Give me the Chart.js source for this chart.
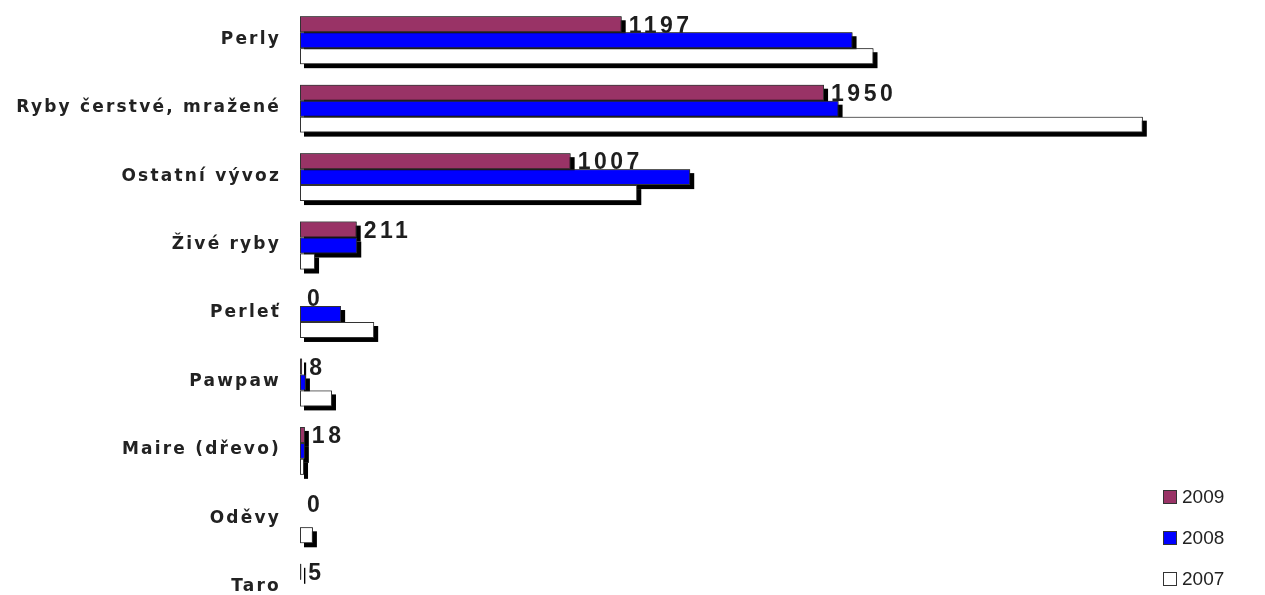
<!DOCTYPE html>
<html>
<head>
<meta charset="utf-8">
<script src="https://cdn.jsdelivr.net/npm/chart.js@4.4.0/dist/chart.umd.min.js"></script>
<style>
  html, body { margin: 0; padding: 0; background: #fff; overflow: hidden; }
  #wrap { width: 1265px; height: 625px; }
</style>
</head>
<body>
<div id="wrap"><canvas id="c" width="1265" height="625"></canvas></div>
<script>
const categories = ["Perly", "Ryby čerstvé, mražené", "Ostatní vývoz", "Živé ryby", "Perleť", "Pawpaw", "Maire (dřevo)", "Oděvy", "Taro"];
const values2009 = [1197, 1950, 1007, 211, 0, 8, 18, 0, 5];
const values2008 = [2056, 2004, 1452, 213, 153, 22, 18, 0, 0];
const values2007 = [2134, 3136, 1255, 56, 276, 119, 15, 48, 0];
const seriesLabels = ["2009", "2008", "2007"];
const seriesColors = ["#993366", "#0000FF", "#FFFFFF"];

const shadowPlugin = {
  id: 'shadowBars',
  afterDatasetsDraw(chart) {
    const ctx = chart.ctx;
    chart.data.datasets.forEach((ds, i) => {
      const meta = chart.getDatasetMeta(i);
      meta.data.forEach((el, j) => {
        const v = ds.data[j];
        if (v > 0) {
          const left = Math.min(el.base, el.x);
          const w = Math.abs(el.x - el.base);
          ctx.save();
          ctx.fillStyle = '#000';
          ctx.fillRect(left + 4, el.y - el.height / 2 + 4, w, el.height);
          ctx.restore();
          el.draw(ctx, chart.chartArea);
        }
      });
      if (i === 0) {
        ctx.save();
        ctx.font = 'bold 23px "Liberation Sans", Arial, sans-serif';
        ctx.letterSpacing = '3.5px';
        ctx.fillStyle = '#1e1e1e';
        ctx.textAlign = 'left';
        ctx.textBaseline = 'middle';
        meta.data.forEach((el, j) => {
          ctx.fillText(String(ds.data[j]), el.x + 7, el.y + 2);
        });
        ctx.restore();
      }
    });
  },
  afterDraw(chart) {
    const ctx = chart.ctx;
    const yScale = chart.scales.y;
    ctx.save();
    ctx.font = 'bold 17px "DejaVu Sans", Verdana, sans-serif';
    ctx.letterSpacing = '2.2px';
    ctx.fillStyle = '#222';
    ctx.textAlign = 'right';
    ctx.textBaseline = 'middle';
    categories.forEach((c, i) => {
      ctx.fillText(c, 281, yScale.getPixelForValue(i) - 1);
    });
    ctx.restore();
    // legend
    ctx.save();
    ctx.font = '19px "Liberation Sans", Arial, sans-serif';
    ctx.textAlign = 'left';
    ctx.textBaseline = 'middle';
    chart.data.datasets.forEach((ds, i) => {
      const cy = 497 + 41 * i;
      ctx.fillStyle = ds.backgroundColor;
      ctx.fillRect(1163.5, cy - 6.5, 13, 13);
      ctx.strokeStyle = '#333';
      ctx.lineWidth = 1;
      ctx.strokeRect(1163.5, cy - 6.5, 13, 13);
      ctx.fillStyle = '#222';
      ctx.fillText(ds.label, 1182, cy + 1);
    });
    ctx.restore();
  }
};

const allValues = [values2009, values2008, values2007];
new Chart(document.getElementById('c'), {
  type: 'bar',
  data: {
    labels: categories,
    datasets: allValues.map((vals, i) => ({
      label: seriesLabels[i],
      data: vals,
      backgroundColor: seriesColors[i],
      borderColor: '#333',
      borderWidth: (ctx) => (ctx.raw === 0 ? 0 : 1),
      borderSkipped: false,
      categoryPercentage: 0.7,
      barPercentage: 1.0
    }))
  },
  options: {
    indexAxis: 'y',
    responsive: false,
    animation: false,
    devicePixelRatio: 1,
    layout: { padding: { left: 0, right: 105, top: 6, bottom: 3 } },
    plugins: { legend: { display: false }, tooltip: { enabled: false } },
    scales: {
      x: { display: false, min: 0, max: 3200 },
      y: {
        display: true,
        grid: { display: false },
        border: { display: false },
        ticks: { display: false },
        afterFit(scale) { scale.width = 300; }
      }
    }
  },
  plugins: [shadowPlugin]
});
</script>
</body>
</html>
